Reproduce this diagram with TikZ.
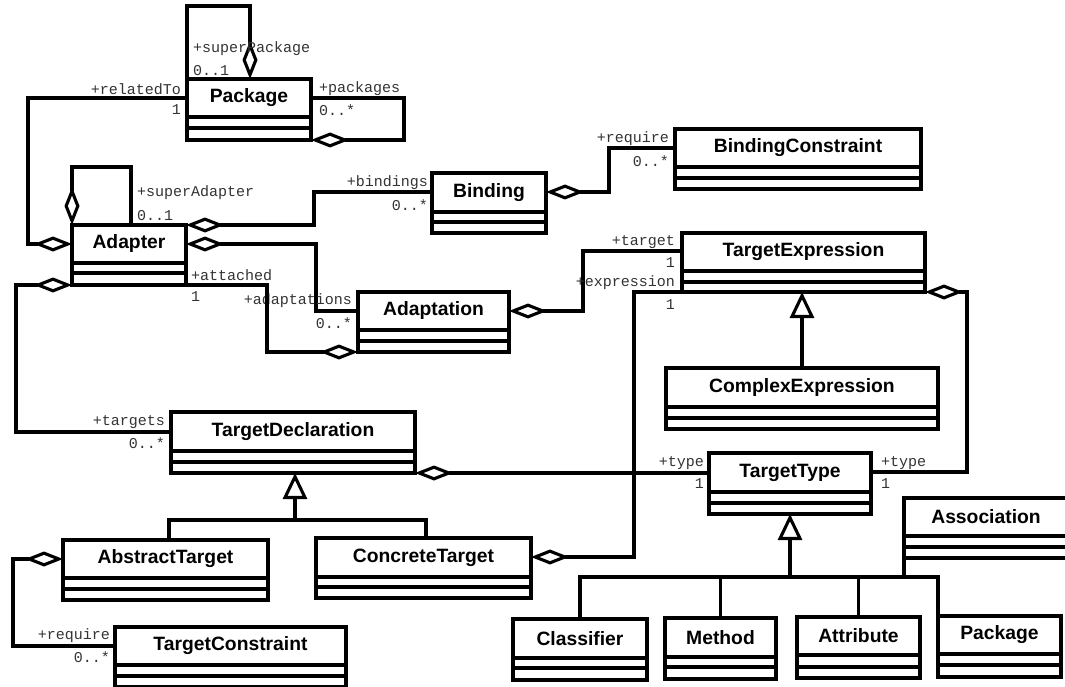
\documentclass[tikz,border=0pt]{standalone}
\usepackage{fontspec}
\setmainfont{Liberation Sans}
\newfontfamily\monofont{Liberation Mono}
\usetikzlibrary{arrows.meta}

\tikzset{
  classbox/.style={draw, line width=3.1pt, inner sep=0pt, outer sep=0pt, fill=white},
  rule/.style={line width=3.1pt},
  cname/.style={font=\fontsize{19.3}{21}\selectfont\bfseries, inner sep=0pt},
  role/.style={font=\monofont\fontsize{15}{16}\selectfont, text=black!80, inner sep=0pt},
  conn/.style={line width=3.1pt, line join=miter},
  agg/.style={conn, -{Diamond[fill=white, length=38pt, width=15pt]}},
  gen/.style={conn, -{Triangle[fill=white, length=26pt, width=24pt]}},
}

% UML class: name, x1, y1, x2, y2, header bottom, second rule, title
\newcommand{\umlclass}[8]{%
  \node[classbox, minimum width={(#4-#2)*1pt}, minimum height={(#5-#3)*1pt}]
    (#1) at ({(#2+#4)/2},{(#3+#5)/2}) {};
  \draw[rule] (#2,#6) -- (#4,#6) (#2,#7) -- (#4,#7);
  \node[cname] (#1-title) at ({(#2+#4)/2},{(#3+#6)/2}) {#8};
}

\begin{document}
\begin{tikzpicture}[x=1pt, y=-1pt]
\useasboundingbox (0,0) rectangle (1065,687);

% classes
\umlclass{package}{187}{79}{311}{140}{117}{128}{Package}
\umlclass{adapter}{72}{225}{186}{285}{263}{273}{Adapter}
\umlclass{binding}{432}{173}{546}{233}{212}{222}{Binding}
\umlclass{bconstraint}{675}{129}{921}{189}{167}{178}{BindingConstraint}
\umlclass{adaptation}{358}{292}{509}{352}{330}{341}{Adaptation}
\umlclass{texpr}{682}{233}{925}{292}{271}{282}{TargetExpression}
\umlclass{cexpr}{666}{368}{938}{429}{407}{418}{ComplexExpression}
\umlclass{tdecl}{171}{412}{415}{473}{451}{462}{TargetDeclaration}
\umlclass{ttype}{709}{453}{871}{514}{492}{503}{TargetType}
\umlclass{atarget}{63}{540}{268}{600}{578}{589}{AbstractTarget}
\umlclass{ctarget}{316}{538}{531}{598}{577}{587}{ConcreteTarget}
\umlclass{tconstraint}{115}{627}{346}{687}{665}{676}{TargetConstraint}
\umlclass{classifier}{513}{619}{647}{680}{658}{668}{Classifier}
\umlclass{method}{665}{618}{776}{679}{657}{667}{Method}
\umlclass{attribute}{797}{617}{920}{678}{655}{667}{Attribute}
\umlclass{package2}{938}{616}{1061}{677}{654}{665}{Package}
\umlclass{association}{904}{498}{1068}{558}{536}{547}{Association}

% Package associations
\draw[agg] (package.north west) -- (187,6) -- (250,6) -- (package.north west -| 250,0);
\node[role, anchor=west] (l1) at (193,49) {+superPackage};
\node[role, anchor=west] (l2) at (193,71) {0..1};

\draw[agg] (package.west |- 0,98) -- (28,98) -- (28,244) -- (adapter.west |- 0,244);
\node[role, anchor=east] (l3) at (181,89) {+relatedTo};
\node[role, anchor=east] (l4) at (181,110) {1};

\draw[agg] (package.east |- 0,98) -- (404,98) -- (404,140) -- (package.south east);
\node[role, anchor=west] (l5) at (319,89) {+packages};
\node[role, anchor=west] (l6) at (319,110) {0..*};

% Adapter associations
\draw[agg] (adapter.north west -| 131,0) -- (131,167) -- (72,167) -- (adapter.north west);
\node[role, anchor=west] (l7) at (137,193) {+superAdapter};
\node[role, anchor=west] (l8) at (137,216) {0..1};

\draw[agg] (binding.west |- 0,192) -- (314,192) -- (314,225) -- (adapter.north east);
\node[role, anchor=east] (l9) at (428,183) {+bindings};
\node[role, anchor=east] (l10) at (428,205) {0..*};

\draw[agg] (adaptation.west |- 0,311) -- (316,311) -- (316,244) -- (adapter.east |- 0,244);
\node[role, anchor=east] (l11) at (352,301) {+adaptations};
\node[role, anchor=east] (l12) at (352,323) {0..*};

\draw[agg] (adapter.south east) -- (267,285) -- (267,352) -- (adaptation.south west);
\node[role, anchor=west] (l13) at (191,275) {+attached};
\node[role, anchor=west] (l14) at (191,297) {1};

\draw[agg] (tdecl.west |- 0,432) -- (16,432) -- (16,285) -- (adapter.south west);
\node[role, anchor=east] (l15) at (165,422) {+targets};
\node[role, anchor=east] (l16) at (165,443) {0..*};

% Binding constraint
\draw[agg] (bconstraint.west |- 0,148) -- (609,148) -- (609,192) -- (binding.east |- 0,192);
\node[role, anchor=east] (l17) at (669,139) {+require};
\node[role, anchor=east] (l18) at (669,161) {0..*};

% Adaptation target
\draw[agg] (texpr.west |- 0,251) -- (583,251) -- (583,311) -- (adaptation.east |- 0,311);
\node[role, anchor=east] (l19) at (675,242) {+target};
\node[role, anchor=east] (l20) at (675,263) {1};

% ConcreteTarget expression
\draw[agg] (texpr.south west) -- (634,292) -- (634,557) -- (ctarget.east |- 0,557);
\node[role, anchor=east] (l21) at (675,283) {+expression};
\node[role, anchor=east] (l22) at (675,305) {1};

% TargetType associations
\draw[agg] (ttype.east |- 0,472) -- (967,472) -- (967,292) -- (texpr.south east);
\node[role, anchor=west] (l23) at (881,463) {+type};
\node[role, anchor=west] (l24) at (881,484) {1};

\draw[agg] (ttype.west |- tdecl.south east) -- (tdecl.south east);
\node[role, anchor=east] (l25) at (704,463) {+type};
\node[role, anchor=east] (l26) at (704,484) {1};

% TargetConstraint
\draw[agg] (tconstraint.west |- 0,646) -- (13,646) -- (13,559) -- (atarget.west |- 0,559);
\node[role, anchor=east] (l27) at (110,636) {+require};
\node[role, anchor=east] (l28) at (110,657) {0..*};

% generalizations
\draw[gen] (cexpr.north) -- (texpr.south -| cexpr.north);
\draw[conn] (atarget.north -| 169,0) -- (169,520) -- (426,520) -- (ctarget.north -| 426,0);
\draw[gen] (295,520) -- (tdecl.south -| 295,0);
\draw[conn] (classifier.north) -- (classifier.north |- 0,577) -- (938,577) -- (package2.north west);
\draw[conn] (method.north) -- (method.north |- 0,577);
\draw[conn] (attribute.north) -- (attribute.north |- 0,577);
\draw[conn] (association.south west) -- (904,577);
\draw[gen] (790,577) -- (ttype.south);
\end{tikzpicture}
\end{document}
